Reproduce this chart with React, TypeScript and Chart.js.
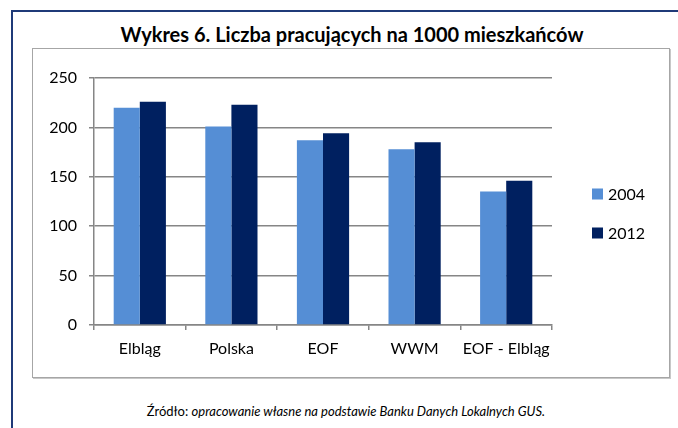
import React, { useEffect, useRef } from "react";
import { Chart, registerables } from "chart.js";

Chart.register(...registerables);

const title = "Wykres 6. Liczba pracujących na 1000 mieszkańców";
const categories = ["Elbląg", "Polska", "EOF", "WWM", "EOF - Elbląg"];
const seriesNames = ["2004", "2012"];
const values2004 = [220, 201, 187, 178, 135];
const values2012 = [226, 223, 194, 185, 146];
const seriesColors = ["#558ED5", "#002060"];
const yTicks = [0, 50, 100, 150, 200, 250];

const FONT = "Lato, 'Open Sans', sans-serif";

const legendPlugin = {
  id: "sideLegend",
  afterDraw(chart: any) {
    const ctx = chart.ctx;
    const area = chart.chartArea;
    const ds = chart.data.datasets;
    const spacing = 39;
    const startY = (chart.height - (ds.length - 1) * spacing) / 2;
    ctx.save();
    ctx.font = `16px ${FONT}`;
    ctx.textBaseline = "middle";
    ctx.textAlign = "left";
    ds.forEach((d: any, i: number) => {
      const y = startY + i * spacing;
      const x = area.right + 40;
      ctx.fillStyle = d.backgroundColor;
      ctx.fillRect(x, y - 5, 11, 11);
      ctx.fillStyle = "#000";
      ctx.fillText(d.label, x + 16, y + 1);
    });
    ctx.restore();
  },
};

function BarChart() {
  const ref = useRef<HTMLCanvasElement | null>(null);
  useEffect(() => {
    if (!ref.current) return;
    const chart = new Chart(ref.current, {
      type: "bar",
      data: {
        labels: categories,
        datasets: [
          {
            label: seriesNames[0],
            data: values2004,
            backgroundColor: seriesColors[0],
            categoryPercentage: 0.57,
            barPercentage: 1,
          },
          {
            label: seriesNames[1],
            data: values2012,
            backgroundColor: seriesColors[1],
            categoryPercentage: 0.57,
            barPercentage: 1,
          },
        ],
      },
      options: {
        animation: false,
        responsive: false,
        maintainAspectRatio: false,
        layout: { padding: { top: 29, right: 117, left: 0, bottom: 0 } },
        plugins: {
          legend: { display: false },
          title: { display: false },
          tooltip: { enabled: false },
        },
        scales: {
          x: {
            afterFit: (s: any) => {
              s.height = 52;
            },
            grid: {
              offset: true,
              drawOnChartArea: false,
              drawTicks: true,
              tickLength: 5,
              color: "#868686",
              lineWidth: 1.5,
            },
            border: { display: true, color: "#868686", width: 1.5 },
            ticks: {
              color: "#000",
              font: { family: FONT, size: 16 },
              padding: 9,
              maxRotation: 0,
              autoSkip: false,
            },
          },
          y: {
            min: 0,
            max: 250,
            afterFit: (s: any) => {
              s.width = 61;
            },
            afterBuildTicks: (s: any) => {
              s.ticks = yTicks.map((v) => ({ value: v }));
            },
            grid: {
              drawOnChartArea: true,
              drawTicks: true,
              tickLength: 5,
              color: "#868686",
              lineWidth: 1.5,
            },
            border: { display: true, color: "#868686", width: 1.5 },
            ticks: {
              color: "#000",
              font: { family: FONT, size: 16 },
              padding: 12,
            },
          },
        },
      },
      plugins: [legendPlugin],
    });
    return () => chart.destroy();
  }, []);
  return <canvas ref={ref} width={636} height={328} style={{ display: "block" }} />;
}

export default function App() {
  useEffect(() => {
    document.body.style.margin = "0";
  }, []);
  return (
    <div
      style={{
        position: "relative",
        width: 678,
        height: 428,
        background: "#fff",
        overflow: "hidden",
        fontFamily: FONT,
      }}
    >
      {/* outer navy frame */}
      <div style={{ position: "absolute", left: 11, top: 10, width: 667, height: 2, background: "#1F3A78" }} />
      <div style={{ position: "absolute", left: 11, top: 10, width: 2, height: 418, background: "#1F3A78" }} />
      {/* title */}
      <div
        style={{
          position: "absolute",
          left: 32,
          width: 640,
          top: 22,
          textAlign: "center",
          fontWeight: 700,
          fontSize: 20,
          color: "#000",
          lineHeight: "24px",
        }}
      >
        {title}
      </div>
      {/* inner chart box */}
      <div
        style={{
          position: "absolute",
          left: 32,
          top: 48,
          width: 636,
          height: 328,
          border: "1px solid #a6a6a6",
          boxShadow: "1px 1px 0 #c8c8c8",
          background: "#fff",
        }}
      >
        <BarChart />
      </div>
      {/* footer */}
      <div
        style={{
          position: "absolute",
          left: 20,
          width: 652,
          top: 402,
          textAlign: "center",
          fontSize: 13,
          color: "#000",
          lineHeight: "18px",
        }}
      >
        Źródło: <i>opracowanie własne na podstawie Banku Danych Lokalnych GUS.</i>
      </div>
    </div>
  );
}
